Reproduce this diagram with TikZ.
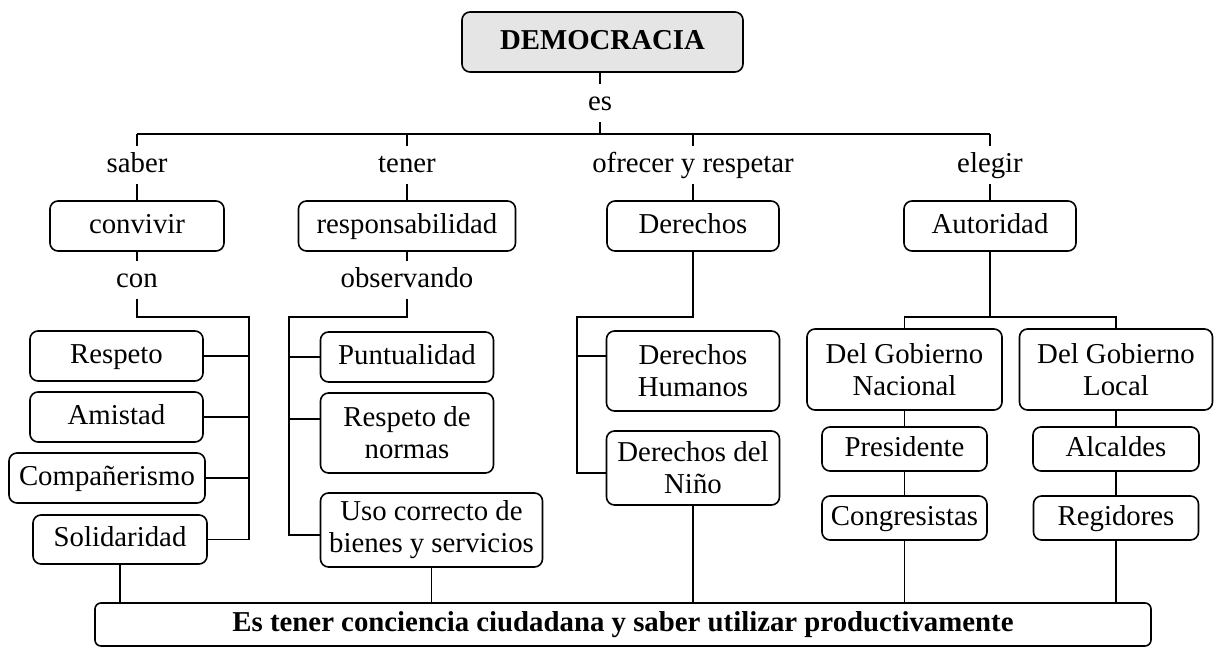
\documentclass[tikz,border=0pt]{standalone}
\usepackage{fontspec}
\setmainfont{Liberation Serif}
\usepackage{tikz}
\tikzstyle{block} = [rectangle, draw, rounded corners=4pt, align=center,
    inner sep=1pt, minimum height=25pt]
\tikzstyle{item} = [block, text height=10pt, text depth=3pt]
\tikzstyle{root} = [item, fill=black!10, font=\bfseries,
    minimum width=140.5pt, minimum height=30pt]
\tikzstyle{verb} = [inner sep=2.5pt, text height=10pt, text depth=3pt]

\begin{document}
\fontsize{14.4}{16}\selectfont
\begin{tikzpicture}[node distance=30.5pt, line width=0.8pt]
  \useasboundingbox (-301.25pt,21pt) rectangle (306.25pt,-303pt);
  % Place nodes
  \node [root] (demo) {DEMOCRACIA};
  \node [verb, below of=demo, xshift=-1.25pt] (es) {es};
  \node [verb, below of=demo, node distance=61.5pt, xshift=-232.75pt] (saber) {saber};
  \node [verb, right of=saber, node distance=135pt] (tener) {tener};
  \node [verb, right of=tener, node distance=143pt] (ofrecer) {ofrecer y respetar};
  \node [verb, right of=ofrecer, node distance=148.5pt] (elegir) {elegir};
  \node [item, below of=saber, minimum width=87pt] (convivir) {convivir};
  \node [item, below of=tener, minimum width=108.5pt] (responsabilidad)
  {responsabilidad};
  \node [item, below of=ofrecer, minimum width=86pt] (derechos) {Derechos};
  \node [item, below of=elegir, minimum width=86pt] (autoridad) {Autoridad};
  \node [verb, below of=convivir, node distance=27pt] (con) {con};
  \node [verb, below of=responsabilidad, node distance=27pt] (observando)
  {observando};
  % saber convivir con
  \node [item, below of=con, node distance=38pt, xshift=-10.25pt,
  minimum width=86.5pt] (respeto) {Respeto};
  \node [item, below of=respeto, minimum width=86.5pt] (amistad) {Amistad};
  \node [item, below of=amistad, xshift=-4.75pt, minimum width=98pt]
  (companerismo) {Compañerismo};
  \node [item, below of=companerismo, node distance=30.75pt, xshift=6.5pt,
  minimum width=87pt, minimum height=24.5pt] (solidaridad) {Solidaridad};
  % tener responsabilidad observando
  \node [item, below of=observando, node distance=38.5pt, minimum width=86.5pt]
  (puntualidad) {Puntualidad};
  \node [block, below of=puntualidad, node distance=38pt, minimum width=86.5pt,
  minimum height=40pt] (normas) {Respeto de\\normas};
  \node [block, below of=normas, node distance=48.5pt, xshift=12.25pt,
  minimum width=111pt, minimum height=37pt] (uso)
  {Uso correcto de\\bienes y servicios};
  % ofrecer y respetar derechos
  \node [block, below of=derechos, node distance=72.5pt, minimum width=86.5pt,
  minimum height=40pt] (humanos) {Derechos\\Humanos};
  \node [block, below of=humanos, node distance=48.5pt, minimum width=86.5pt,
  minimum height=37pt] (nino) {Derechos del\\Niño};
  % elegir autoridad
  \node [block, below of=autoridad, node distance=71.75pt, xshift=-42.75pt,
  minimum width=97.5pt, minimum height=40.5pt] (nacional) {Del Gobierno\\Nacional};
  \node [block, right of=nacional, node distance=105.75pt, minimum width=96.5pt,
  minimum height=40.5pt] (local) {Del Gobierno\\Local};
  \node [item, below of=nacional, node distance=39.75pt, minimum width=82.5pt,
  minimum height=22pt] (presidente) {Presidente};
  \node [item, below of=presidente, node distance=34.5pt, minimum width=82.5pt,
  minimum height=22pt] (congresistas) {Congresistas};
  \node [item, below of=local, node distance=39.75pt, minimum width=83pt,
  minimum height=22pt] (alcaldes) {Alcaldes};
  \node [item, below of=alcaldes, node distance=34.5pt, minimum width=82.5pt,
  minimum height=22pt] (regidores) {Regidores};
  \node [item, below of=demo, node distance=291.25pt, xshift=10.25pt,
  minimum width=528pt, minimum height=21.5pt, rounded corners=3pt,
  font=\bfseries] (final)
  {Es tener conciencia ciudadana y saber utilizar productivamente};
  % bus points
  \coordinate (bar) at (0,-46pt);
  \coordinate (cbus) at (-176.75pt,-137.5pt);
  \coordinate (obus) at (-156.75pt,-137.5pt);
  \coordinate (dbus) at (-12.75pt,-137.5pt);
  \coordinate (abus) at (193.75pt,-137.5pt);
  \coordinate (nrm) at ([yshift=7pt]normas.west);
  \coordinate (hum) at ([yshift=7.5pt]humanos.west);
  % Draw edges
  \draw (es) -- (es |- demo.south);
  \draw (es) -- (es |- bar);
  \draw (saber |- bar) -- (elegir |- bar);
  \foreach \v/\b in {saber/convivir, tener/responsabilidad,
    ofrecer/derechos, elegir/autoridad}
    \draw (\v |- bar) -- (\v) -- (\b);
  \draw (convivir) -- (con);
  \draw (con) |- (cbus) -- (cbus |- solidaridad);
  \foreach \n in {respeto, amistad, companerismo, solidaridad}
    \draw (cbus |- \n) -- (\n);
  \draw (responsabilidad) -- (observando);
  \draw (observando) |- (obus) |- ([yshift=-2.5pt]uso.west);
  \draw (obus |- puntualidad) -- (puntualidad);
  \draw (obus |- nrm) -- (nrm);
  \draw (derechos) |- (dbus) |- ([yshift=-2.5pt]nino.west);
  \draw (dbus |- hum) -- (hum);
  \draw (autoridad) -- (abus);
  \draw (nacional) |- (abus) -| (local);
  \draw (nacional) -- (presidente) -- (congresistas) -- (congresistas |- final.north);
  \draw (local) -- (alcaldes) -- (regidores) -- (regidores |- final.north);
  \foreach \n in {solidaridad, uso, nino}
    \draw (\n) -- (\n |- final.north);
\end{tikzpicture}
\end{document}
